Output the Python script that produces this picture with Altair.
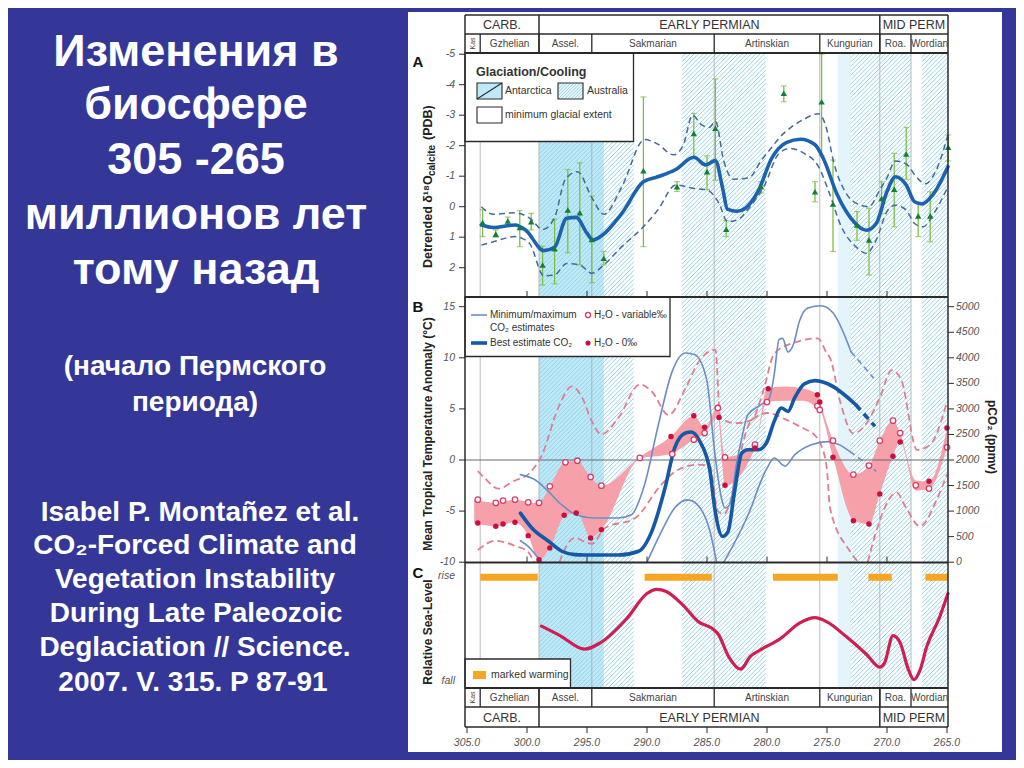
import altair as alt
import pandas as pd

# ============================ DATA ============================
# geological time scale (Ma)
stage_names = ["Kas", "Gzhelian", "Assel.", "Sakmarian", "Artinskian", "Kungurian", "Roa.", "Wordian"]
stage_bounds = [305.17, 303.9, 299.0, 294.6, 284.4, 275.6, 270.6, 268.0, 264.92]
period_names = ["CARB.", "EARLY PERMIAN", "MID PERM"]
period_bounds = [305.17, 299.0, 270.6, 264.92]

# glaciation / cooling intervals (Ma)
ant_start, ant_end = [299.0], [293.6]
faint_start, faint_end = [274.1], [273.0]
hatch_start = [299.0, 287.1, 273.0, 267.1]
hatch_end = [291.1, 280.1, 268.0, 264.92]

# ---- Panel A: detrended d18O calcite ----
a_age = [303.7, 302.6, 301.6, 300.6, 299.65, 298.7, 297.7, 296.6, 295.6, 294.6, 293.6, 290.3, 287.5, 286.1, 285.0,
         284.3, 283.4, 280.5, 278.6, 276.0, 275.45, 274.5, 272.5, 271.5, 270.45, 269.4, 268.4, 267.4, 266.4, 264.9]
a_val = [0.52, 0.90, 0.47, 0.68, 0.49, 1.91, 1.38, 0.11, 0.20, 1.07, 1.69, -1.18, -0.66, -2.40, -1.15,
         -2.57, 0.74, -0.66, -3.72, -0.49, -3.44, -0.09, 0.60, 1.09, -0.27, -0.57, -1.73, 0.30, 0.30, -1.95]
a_lo = [0.10, 0.76, 0.34, 0.13, 0.22, 1.29, 0.41, -1.22, -1.44, -0.35, 1.47, -3.60, -0.82, -3.06, -1.67,
        -4.19, 0.46, -0.82, -3.96, -0.82, -5.00, -1.53, 0.16, 0.05, -0.82, -1.75, -2.60, -0.16, -0.49, -2.35]
a_hi = [0.98, 1.00, 0.60, 1.31, 0.76, 2.57, 2.53, 1.51, 1.91, 2.49, 1.91, 1.31, -0.50, -1.64, -0.56,
        -0.87, 0.98, -0.45, -3.44, -0.16, -1.68, 1.47, 1.10, 2.24, 0.22, 0.66, -0.90, 0.98, 1.15, -1.50]

a_fit_age = [303.8, 302.8, 301.0, 300.1, 298.6, 297.7, 296.7, 295.9, 295.0, 294.5, 293.7, 292.1, 290.3, 289.1, 287.6,
             286.1, 285.1, 284.3, 283.7, 283.3, 282.5, 281.8, 280.75, 279.6, 278.4, 277.2, 276.0, 275.25, 274.2, 273.0,
             271.7, 270.9, 270.0, 269.3, 268.4, 267.7, 267.1, 266.2, 264.92]
a_fit_val = [0.60, 0.68, 0.60, 0.77, 1.44, 1.33, 0.38, 0.35, 0.87, 1.09, 0.93, 0.22, -0.82, -0.98, -1.22,
             -1.62, -1.37, -1.51, -0.61, 0.08, 0.15, 0.05, -0.50, -1.59, -2.10, -2.21, -2.03, -1.53, -0.44, 0.38,
             0.77, 0.55, -0.50, -0.98, -0.71, -0.16, -0.09, -0.38, -1.31]

a_up_age = [303.8, 302.8, 301.0, 299.7, 298.7, 297.7, 296.8, 295.8, 294.6, 293.6, 292.1, 290.2, 289.1, 287.8, 287.0,
            286.2, 285.5, 284.8, 284.3, 283.6, 282.8, 281.5, 280.5, 279.5, 279.0, 278.0, 277.0, 275.7, 275.0, 274.5,
            273.5, 272.5, 271.5, 270.6, 270.0, 269.3, 268.4, 267.5, 266.8, 265.9, 264.92]
a_up_val = [0.00, 0.25, 0.20, 0.40, 0.75, 0.35, -0.90, -1.15, -0.30, 0.25, -0.65, -2.20, -2.05, -1.70, -2.00,
            -3.00, -2.70, -2.60, -2.80, -1.50, -0.90, -0.95, -1.50, -2.00, -2.25, -2.60, -2.85, -3.05, -2.50, -1.55,
            -0.50, -0.10, 0.00, -0.55, -0.95, -1.50, -1.40, -0.95, -0.75, -1.20, -2.35]

a_dn_age = [303.8, 302.8, 301.0, 299.8, 298.6, 297.7, 296.7, 295.6, 294.6, 293.6, 292.1, 290.3, 289.1, 287.6, 286.1,
            285.0, 284.0, 283.3, 282.5, 281.4, 280.2, 279.0, 278.1, 276.9, 275.7, 274.8, 273.8, 272.6, 271.7, 270.9,
            270.0, 269.3, 268.4, 267.7, 267.0, 266.1, 264.92]
a_dn_val = [1.26, 1.15, 0.98, 1.20, 2.27, 2.24, 1.86, 1.91, 2.18, 1.91, 1.31, 0.66, 0.11, -0.71, -0.60,
            -0.55, -0.11, 0.49, 0.44, 0.00, -0.71, -1.75, -1.91, -1.75, -1.31, -0.44, 0.66, 1.31, 1.53, 1.09,
            0.16, -0.05, 0.11, 0.55, 0.66, 0.22, -0.66]

# ---- Panel B: tropical temperature anomaly (deg C) ----
b_open_age = [304.1, 302.6, 302.0, 301.0, 299.9, 299.0, 298.1, 296.8, 295.8, 294.7, 293.8, 290.6, 287.9, 286.1, 285.2,
              284.1, 283.5, 281.0, 280.0, 275.8, 275.6, 274.5, 272.8, 271.5, 270.6, 269.5, 268.9, 267.6, 266.5, 265.0]
b_open_val = [-3.88, -4.20, -3.97, -3.88, -4.14, -4.20, -2.58, -0.23, -0.07, -1.66, -2.51, 0.20, 0.59, 1.99, 2.64,
              5.09, 0.26, 1.50, 5.67, 5.28, 4.90, 1.89, -1.43, -0.55, 1.89, 3.85, 2.64, -2.48, -2.80, 1.24]

b_fill_age = [304.1, 302.6, 302.0, 301.0, 299.9, 299.0, 298.1, 296.9, 295.9, 294.7, 293.8, 288.0, 286.1, 285.2,
              284.0, 283.5, 281.0, 279.9, 275.8, 275.6, 274.5, 272.8, 271.5, 270.6, 269.5, 268.9, 266.5, 265.0]
b_fill_val = [-6.16, -6.49, -6.26, -6.10, -7.40, -9.75, -8.60, -5.41, -5.18, -7.63, -6.82, 2.31, 4.34, 3.20,
              4.17, -2.48, 1.17, 6.98, 6.39, 5.67, 0.26, -5.94, -6.26, -3.33, 0.36, 1.76, -2.09, 3.13]

b_band_age = [304.4, 302.6, 301.0, 299.9, 299.0, 298.1, 296.8, 295.8, 294.7, 293.8, 290.6, 288.0, 286.1, 285.2, 284.1,
              283.5, 281.0, 280.0, 278.5, 277.0, 275.8, 275.6, 274.5, 272.8, 271.5, 270.6, 269.5, 268.9, 267.6, 266.5,
              265.0]
b_band_hi = [-3.9, -4.2, -3.9, -4.1, -4.2, -2.6, -0.2, -0.1, -1.7, -2.5, 0.3, 2.3, 4.3, 3.2, 5.1,
             0.3, 1.5, 7.0, 7.2, 7.0, 6.4, 5.7, 1.9, -1.4, -0.6, 1.9, 3.9, 2.6, -2.0, -2.1, 3.1]
b_band_lo = [-6.2, -6.5, -6.1, -7.4, -9.8, -8.6, -5.4, -5.2, -7.6, -6.8, 0.1, 0.6, 2.0, 2.6, 4.2,
             -2.5, 1.2, 5.7, 5.8, 5.8, 5.1, 4.9, 0.3, -5.9, -6.3, -3.3, 0.4, 1.8, -3.0, -2.8, 1.2]

b_pu_age = [304.1, 303.5, 302.4, 301.0, 299.9, 298.75, 297.4, 296.25, 295.4, 294.6, 293.8, 292.4, 290.6, 289.6, 288.2,
            286.8, 285.7, 284.3, 283.9, 282.7, 281.3, 280.3, 279.4, 277.7, 275.75, 275.0, 274.75, 273.9, 272.8, 271.7,
            270.6, 269.6, 268.8, 267.5, 266.4, 265.0]
b_pu_val = [-1.1, -1.8, -2.8, -2.0, -1.4, 0.5, 5.1, 7.2, 6.1, 3.8, 2.5, 4.1, 7.4, 6.7, 4.4,
            7.0, 9.6, 10.8, 4.2, 3.6, 3.9, 6.8, 10.4, 11.5, 11.9, 10.4, 10.0, 5.7, 2.6, 3.6,
            6.1, 8.8, 7.8, 1.0, 1.5, 5.7]

b_pl_age = [304.1, 302.6, 301.0, 299.9, 299.4, None, 297.3, 296.8, 296.0, 295.2, 294.6, 293.5, 291.0, 288.8, 287.4,
            285.7, 284.75, 284.1, 283.6, 282.7, 282.1, 281.5, 280.8, 280.0, 278.5, 277.0, 276.0, 275.5, 275.0, 274.75,
            273.1, 272.4, None, 271.6, 270.9, 269.2, 268.4, 267.25, 265.9, 265.0]
b_pl_val = [-8.8, -7.9, -8.4, -9.0, -10.0, None, -10.0, -8.6, -7.6, -8.0, -8.2, -6.65, -5.7, -2.4, -0.95,
            -0.45, -0.6, -5.0, -5.3, -2.4, 1.2, 3.5, 4.3, 4.6, 4.0, 3.1, 2.4, 1.5, -1.0, -4.7,
            -8.9, -10.0, None, -10.0, -7.0, -3.2, -4.7, -6.5, -4.0, -1.4]

b_max_age = [300.55, 299.3, 298.2, 297.1, 295.8, 294.3, 292.4, 291.3, 290.2, 289.05, 287.9, 286.8, 286.0, 285.0, 284.4,
             283.8, 283.5, 283.1, 282.55, 282.1, 281.6, 280.5, 279.8, 279.4, 279.0, 278.7, 278.25, 277.8, 277.3, 276.6,
             275.5, 274.5, 273.0]
b_max_val = [-1.43, -1.96, -3.10, -4.40, -5.40, -5.67, -5.67, -5.35, -2.40, 3.46, 8.67, 10.47, 10.30, 7.70, 1.17,
             -3.70, -4.70, -4.37, -0.46, 2.15, 4.43, 5.41, 6.07, 8.35, 11.77, 11.90, 10.57, 11.30, 13.57, 14.87,
             15.10, 14.40, 10.60]
b_max_ext_age, b_max_ext_val = [273.0, 271.1], [10.6, 8.0]

b_min_age = [300.55, 299.9, 299.2, 298.8, None, 290.0, 288.8, 287.7, 286.6, 285.7, 284.75, 284.2, None,
             283.6, 282.8, 281.9, 281.3, 280.75, 280.0, 279.4, 278.5, 277.7, 276.3, 274.9, 273.1]
b_min_val = [-7.9, -8.45, -9.4, -10.0, None, -10.0, -7.0, -4.7, -3.9, -4.5, -7.0, -10.0, None,
             -10.0, -8.3, -6.2, -4.6, -2.8, -0.8, 0.2, -0.6, 0.5, 1.5, 1.8, 0.85]
b_min_ext_age, b_min_ext_val = [273.1, 270.9], [0.85, -1.1]

b_best_age = [300.55, 299.6, 298.2, 297.1, 296.0, 295.2, 292.4, 290.7, 289.6, 288.5, 287.7, 286.8, 286.3, 285.6,
              284.75, 284.4, 283.7, 283.25, 282.7, 282.1, 281.6, 280.75, 280.05, 279.4, 278.8, 278.25, 277.7, 276.9,
              276.0, 274.9, 272.6]
b_best_val = [-5.2, -6.65, -7.95, -8.93, -9.26, -9.3, -9.3, -8.93, -6.98, -2.74, 1.17, 2.64, 2.74, 1.83,
              -1.10, -4.37, -7.47, -7.0, -3.07, 0.68, 1.0, 1.0, 1.66, 3.78, 5.09, 4.76, 6.07, 7.44,
              7.77, 7.44, 5.41]
b_best_ext_age, b_best_ext_val = [272.6, 271.0], [5.41, 3.29]

# ---- Panel C: relative sea level (0 = fall, 1 = rise) ----
sl_age = [298.8, 297.25, 295.2, 293.9, 291.7, 290.0, 289.2, 288.4, 287.0, 285.7, 284.6, 284.05, 283.2, 282.2, 281.4,
          280.6, 278.9, 277.25, 276.0, 275.0, 273.4, 271.7, 270.6, 270.2, 269.5, 268.9, 268.2, 267.75, 267.25, 266.7,
          265.6, 264.92]
sl_val = [0.52, 0.43, 0.30, 0.36, 0.59, 0.83, 0.87, 0.85, 0.72, 0.56, 0.50, 0.44, 0.23, 0.11, 0.23,
          0.29, 0.40, 0.55, 0.60, 0.56, 0.42, 0.25, 0.13, 0.17, 0.43, 0.36, 0.10, 0.01, 0.10, 0.32,
          0.61, 0.83]
warm_start = [303.9, 290.2, 279.5, 271.55, 266.8]
warm_end = [299.1, 284.6, 274.1, 269.6, 264.92]

# axis tick values
a_ticks = [-5, -4, -3, -2, -1, 0, 1, 2]
b_ticks = [15, 10, 5, 0, -5, -10]
co2_ticks = [0, 500, 1000, 1500, 2000, 2500, 3000, 3500, 4000, 4500, 5000]
age_ticks = [305, 300, 295, 290, 285, 280, 275, 270, 265]

# slide text
title_lines = ["Изменения в", "биосфере", "305 -265", "миллионов лет", "тому назад"]
sub_lines = ["(начало Пермского", "периода)"]
ref_lines = ["Isabel P. Montañez et al.", "CO₂-Forced Climate and", "Vegetation Instability",
             "During Late Paleozoic", "Deglaciation // Science.", "2007. V. 315. P 87-91"]

# ============================ STYLE / SCALES ============================
BG = "#343798"
FONT = "Liberation Sans"
DARK = "#2a2a2a"
PX305, PX265 = 467.0, 947.0          # page x of 305 and 265 Ma
OFF = 8                              # page margin


def px2ma(px):
    return 305.0 - (px - PX305) * 40.0 / (PX265 - PX305)


def ma2px(ma):
    return PX305 + (305.0 - ma) * (PX265 - PX305) / 40.0


XS = alt.Scale(domain=[305, 265], range=[PX305 - OFF, PX265 - OFF], nice=False, zero=False)
YA = alt.Scale(domain=[-5, 2], range=[54.2 - OFF, 267.7 - OFF], nice=False, zero=False)
YB = alt.Scale(domain=[-10, 15], range=[562.2 - OFF, 306.7 - OFF], nice=False, zero=False)
YC = alt.Scale(domain=[0, 1], range=[680.7 - OFF, 575.7 - OFF], nice=False, zero=False)
YP = alt.Scale(domain=[OFF, 752 + OFF], range=[0, 752], nice=False, zero=False)


def ex(f):
    return alt.X(f"{f}:Q", scale=XS, axis=None)


def ey(f, s):
    return alt.Y(f"{f}:Q", scale=s, axis=None)


def vx(px):
    return alt.value(px - OFF)


def vy(py):
    return alt.value(py - OFF)


layers = []


def rects_px(rows, **style):
    df = pd.DataFrame(rows, columns=["x0", "x1", "y0", "y1"])
    df["m0"] = df.x0.map(px2ma)
    df["m1"] = df.x1.map(px2ma)
    return alt.Chart(df).mark_rect(**style).encode(x=ex("m0"), x2=alt.X2("m1"), y=ey("y0", YP), y2=alt.Y2("y1"))


def rules_px(rows, **style):
    df = pd.DataFrame(rows, columns=["x0", "y0", "x1", "y1"])
    df["m0"] = df.x0.map(px2ma)
    df["m1"] = df.x1.map(px2ma)
    return alt.Chart(df).mark_rule(**style).encode(x=ex("m0"), x2=alt.X2("m1"), y=ey("y0", YP), y2=alt.Y2("y1"))


def texts_px(rows, **style):
    df = pd.DataFrame(rows, columns=["px", "py", "t"])
    df["ma"] = df.px.map(px2ma)
    st = dict(font=FONT)
    st.update(style)
    return alt.Chart(df).mark_text(**st).encode(x=ex("ma"), y=ey("py", YP), text="t:N")


def hatch_rows(x_left, x_right, ytop, ybot, step):
    h = ybot - ytop
    rows = []
    c = x_left - h
    while c < x_right:
        if c >= x_left:
            sx, sy = c, ybot
        else:
            sx, sy = x_left, ybot - (x_left - c)
        if c + h <= x_right:
            exx, eyy = c + h, ytop
        else:
            exx, eyy = x_right, ybot - (x_right - c)
        if sy > eyy and exx > sx:
            rows.append((sx, sy, exx, eyy))
        c += step
    return rows


def seg_df(ages, vals):
    rows, seg = [], 0
    for a, v in zip(ages, vals):
        if a is None:
            seg += 1
            continue
        rows.append({"age": a, "v": v, "seg": seg})
    return pd.DataFrame(rows)


def line(ages, vals, scale, color, width, dash=None, interp="monotone"):
    df = seg_df(ages, vals)
    kw = dict(color=color, strokeWidth=width, interpolate=interp, strokeCap="round")
    if dash:
        kw["strokeDash"] = dash
        kw["strokeCap"] = "butt"
    return alt.Chart(df).mark_line(**kw).encode(x=ex("age"), y=ey("v", scale), detail="seg:N")


PLOT_TOP, PLOT_BOT = 53, 688

# ---------------- white panel ----------------
layers.append(rects_px([(408, 1002, 12, 752)], fill="white"))

# ---------------- glaciation bands ----------------
gl = pd.DataFrame({"s": ant_start + faint_start, "e": ant_end + faint_end, "k": ["ant", "faint"]})
gl["y0"], gl["y1"] = PLOT_TOP, PLOT_BOT
layers.append(alt.Chart(gl).mark_rect().encode(
    x=ex("s"), x2=alt.X2("e"), y=ey("y0", YP), y2=alt.Y2("y1"),
    color=alt.Color("k:N", scale=alt.Scale(domain=["ant", "faint"], range=["#c0e9f7", "#e3f5fb"]), legend=None)))

hrows = []
for s, e in zip(hatch_start, hatch_end):
    hrows += hatch_rows(ma2px(s), ma2px(e), PLOT_TOP, PLOT_BOT, 4.4)
layers.append(rules_px(hrows, color="#92d4ea", strokeWidth=1.0))

# stage boundary lines inside the panels
sb = pd.DataFrame({"m": stage_bounds[1:-1]})
layers.append(alt.Chart(sb).mark_rule(color="#a9a9a9", strokeWidth=0.8).encode(
    x=ex("m"), y=vy(PLOT_TOP), y2=vy(PLOT_BOT)))

# ---------------- Panel A ----------------
pa = pd.DataFrame({"age": a_age, "v": a_val, "lo": a_lo, "hi": a_hi})
GREEN = "#7dbf45"
layers.append(alt.Chart(pa).mark_rule(color=GREEN, strokeWidth=1.3).encode(
    x=ex("age"), y=ey("lo", YA), y2=alt.Y2("hi")))
layers.append(alt.Chart(pa).mark_tick(orient="horizontal", size=6, thickness=1.2, color=GREEN).encode(
    x=ex("age"), y=ey("lo", YA)))
layers.append(alt.Chart(pa).mark_tick(orient="horizontal", size=6, thickness=1.2, color=GREEN).encode(
    x=ex("age"), y=ey("hi", YA)))
layers.append(line(a_up_age, a_up_val, YA, "#44699b", 1.5, dash=[6, 4]))
layers.append(line(a_dn_age, a_dn_val, YA, "#44699b", 1.5, dash=[6, 4]))
layers.append(line(a_fit_age, a_fit_val, YA, "#1b62b0", 3.6))
layers.append(alt.Chart(pa).mark_point(shape="triangle-up", filled=True, size=42, color="#137f3b", opacity=1).encode(
    x=ex("age"), y=ey("v", YA)))

# ---------------- Panel B ----------------
band = pd.DataFrame({"age": b_band_age, "hi": b_band_hi, "lo": b_band_lo})
layers.append(alt.Chart(band).mark_area(interpolate="monotone", orient="vertical", color="#f6a0aa", opacity=1).encode(
    x=ex("age"), y=ey("hi", YB), y2=alt.Y2("lo")))
# zero line panel B
layers.append(alt.Chart(pd.DataFrame({"v": [0]})).mark_rule(color="#6a6a6a", strokeWidth=1.2).encode(
    y=ey("v", YB), x=vx(465), x2=vx(948)))
PDASH = "#de7f90"
layers.append(line(b_pu_age, b_pu_val, YB, PDASH, 1.8, dash=[7, 4]))
layers.append(line(b_pl_age, b_pl_val, YB, PDASH, 1.8, dash=[7, 4]))
THIN = "#6c8cc6"
layers.append(line(b_max_age, b_max_val, YB, THIN, 1.6))
layers.append(line(b_max_ext_age, b_max_ext_val, YB, THIN, 1.6, dash=[6, 4]))
layers.append(line(b_min_age, b_min_val, YB, THIN, 1.6))
layers.append(line(b_min_ext_age, b_min_ext_val, YB, THIN, 1.6, dash=[6, 4]))
THICK = "#1559a6"
layers.append(line(b_best_age, b_best_val, YB, THICK, 3.6))
layers.append(line(b_best_ext_age, b_best_ext_val, YB, THICK, 3.6, dash=[7, 5]))
layers.append(alt.Chart(pd.DataFrame({"age": b_open_age, "v": b_open_val})).mark_point(
    shape="circle", filled=True, fill="white", stroke="#db3c69", strokeWidth=1.3, size=30, opacity=1).encode(
    x=ex("age"), y=ey("v", YB)))
layers.append(alt.Chart(pd.DataFrame({"age": b_fill_age, "v": b_fill_val})).mark_circle(
    color="#c8103f", size=30, opacity=1).encode(x=ex("age"), y=ey("v", YB)))

# ---------------- Panel C ----------------
wb = pd.DataFrame({"s": warm_start, "e": warm_end, "v": [0.985] * len(warm_start)})
layers.append(alt.Chart(wb).mark_rule(color="#f6a623", strokeWidth=7).encode(
    x=ex("s"), x2=alt.X2("e"), y=ey("v", YC)))
layers.append(line(sl_age, sl_val, YC, "#cf1f52", 3.2))

# ---------------- legends ----------------
# panel A legend
layers.append(rects_px([(465, 633.5, 53, 141.5)], fill="white", stroke=DARK, strokeWidth=1.3))
layers.append(rects_px([(477, 502, 83, 99)], fill="#c0e9f7", stroke=DARK, strokeWidth=1.1))
layers.append(rules_px([(477, 99, 502, 83)], color=DARK, strokeWidth=1.1))
layers.append(rects_px([(558, 583, 83, 99)], fill="#e9f7fc"))
layers.append(rules_px(hatch_rows(558, 583, 83, 99, 3.2), color="#8fd2e8", strokeWidth=0.9))
layers.append(rects_px([(558, 583, 83, 99)], fill=None, fillOpacity=0, stroke=DARK, strokeWidth=1.1))
layers.append(rects_px([(477, 502, 107, 123)], fill="white", stroke=DARK, strokeWidth=1.1))
layers.append(texts_px([(476, 72, "Glaciation/Cooling")], fontSize=12.5, fontWeight="bold", color="#333",
                       align="left", baseline="middle"))
layers.append(texts_px([(505, 91, "Antarctica"), (587, 91, "Australia"), (505, 115, "minimum glacial extent")],
                       fontSize=10.5, color="#333", align="left", baseline="middle"))

# panel B legend
layers.append(rects_px([(465, 670, 297, 356.5)], fill="white", stroke=DARK, strokeWidth=1.3))
layers.append(rules_px([(471, 315, 487, 315)], color=THIN, strokeWidth=1.6))
layers.append(rules_px([(471, 343, 487, 343)], color=THICK, strokeWidth=3.6))
lg_o = pd.DataFrame({"ma": [px2ma(588)], "py": [315]})
layers.append(alt.Chart(lg_o).mark_point(shape="circle", filled=True, fill="white", stroke="#db3c69",
                                         strokeWidth=1.3, size=26, opacity=1).encode(x=ex("ma"), y=ey("py", YP)))
lg_f = pd.DataFrame({"ma": [px2ma(588)], "py": [343]})
layers.append(alt.Chart(lg_f).mark_circle(color="#c8103f", size=26, opacity=1).encode(x=ex("ma"), y=ey("py", YP)))
layers.append(texts_px([(490, 315, "Minimum/maximum"), (490, 328, "CO₂ estimates"), (490, 343, "Best estimate CO₂"),
                        (594, 315, "H₂O - variable‰"), (594, 343, "H₂O - 0‰")],
                       fontSize=10, color="#333", align="left", baseline="middle"))

# panel C legend
layers.append(rects_px([(465, 570.5, 659, 688)], fill="white", stroke=DARK, strokeWidth=1.3))
layers.append(rects_px([(473, 486, 671, 679)], fill="#f6a623"))
layers.append(texts_px([(491, 675, "marked warming")], fontSize=10.5, color="#333", align="left", baseline="middle"))

# ---------------- frame & time-scale tables ----------------
frame_rows = [(465, 15, 948, 15), (465, 727, 948, 727), (465, 34, 948, 34), (465, 707, 948, 707),
              (465, 15, 465, 727), (948, 15, 948, 727)]
layers.append(rules_px(frame_rows, color=DARK, strokeWidth=1.5))
thick_rows = [(465, 53, 948, 53), (465, 297, 948, 297), (465, 562.5, 948, 562.5), (465, 688, 948, 688)]
layers.append(rules_px(thick_rows, color=DARK, strokeWidth=2.2))
pb = pd.DataFrame({"m": period_bounds[1:-1]})
layers.append(alt.Chart(pb).mark_rule(color=DARK, strokeWidth=1.5).encode(x=ex("m"), y=vy(15), y2=vy(53)))
layers.append(alt.Chart(pb).mark_rule(color=DARK, strokeWidth=1.5).encode(x=ex("m"), y=vy(688), y2=vy(727)))
sbi = pd.DataFrame({"m": stage_bounds[1:-1]})
layers.append(alt.Chart(sbi).mark_rule(color=DARK, strokeWidth=1.3).encode(x=ex("m"), y=vy(34), y2=vy(53)))
layers.append(alt.Chart(sbi).mark_rule(color=DARK, strokeWidth=1.3).encode(x=ex("m"), y=vy(688), y2=vy(707)))

pdf = pd.DataFrame({"name": period_names,
                    "mid": [(a + b) / 2 for a, b in zip(period_bounds[:-1], period_bounds[1:])]})
for yy in (24.5, 717.5):
    layers.append(alt.Chart(pdf).mark_text(font=FONT, fontSize=12.5, color="#333", baseline="middle").encode(
        x=ex("mid"), y=vy(yy), text="name:N"))
sdf = pd.DataFrame({"name": stage_names,
                    "mid": [(a + b) / 2 for a, b in zip(stage_bounds[:-1], stage_bounds[1:])]})
for yy in (43.5, 697.5):
    layers.append(alt.Chart(sdf[sdf.name != "Kas"]).mark_text(font=FONT, fontSize=10, color="#444",
                                                               baseline="middle").encode(
        x=ex("mid"), y=vy(yy), text="name:N"))
    layers.append(alt.Chart(sdf[sdf.name == "Kas"]).mark_text(font=FONT, fontSize=7, color="#444", angle=270,
                                                              baseline="middle").encode(
        x=ex("mid"), y=vy(yy), text="name:N"))

# ---------------- axes ----------------
TL = dict(font=FONT, fontSize=10.5, fontStyle="italic", color="#555")
# panel A left
ta = pd.DataFrame({"v": a_ticks, "t": [str(v) for v in a_ticks]})
layers.append(alt.Chart(ta).mark_rule(color=DARK, strokeWidth=1).encode(y=ey("v", YA), x=vx(459), x2=vx(465)))
layers.append(alt.Chart(ta).mark_text(align="right", baseline="middle", **TL).encode(
    y=ey("v", YA), x=vx(455), text="t:N"))
# panel B left
tb = pd.DataFrame({"v": b_ticks, "t": [str(v) for v in b_ticks]})
layers.append(alt.Chart(tb).mark_rule(color=DARK, strokeWidth=1).encode(y=ey("v", YB), x=vx(459), x2=vx(465)))
layers.append(alt.Chart(tb).mark_text(align="right", baseline="middle", **TL).encode(
    y=ey("v", YB), x=vx(455), text="t:N"))
# panel B right (pCO2)
tc = pd.DataFrame({"c": co2_ticks})
tc["v"] = tc.c / 200.0 - 10.0
tc["t"] = tc.c.astype(str)
layers.append(alt.Chart(tc).mark_rule(color=DARK, strokeWidth=1).encode(y=ey("v", YB), x=vx(948), x2=vx(954)))
layers.append(alt.Chart(tc).mark_text(align="left", baseline="middle", **TL).encode(
    y=ey("v", YB), x=vx(956), text="t:N"))
# panel C rise / fall
layers.append(alt.Chart(pd.DataFrame({"v": [1, 0], "t": ["rise", "fall"]})).mark_text(
    align="right", baseline="middle", **TL).encode(y=ey("v", YC), x=vx(455), text="t:N"))
# bottom age axis
tx = pd.DataFrame({"m": age_ticks, "t": [f"{m:.1f}" for m in age_ticks]})
layers.append(alt.Chart(tx).mark_rule(color=DARK, strokeWidth=1).encode(x=ex("m"), y=vy(727), y2=vy(733)))
layers.append(alt.Chart(tx).mark_text(baseline="middle", **TL).encode(x=ex("m"), y=vy(743), text="t:N"))
txi = tx[(tx.m < 305) & (tx.m > 265)]
for yy in (297, 562.5):
    layers.append(alt.Chart(txi).mark_rule(color=DARK, strokeWidth=1).encode(x=ex("m"), y=vy(yy - 6), y2=vy(yy)))

# axis titles and panel letters
layers.append(texts_px([(428, 268, "Detrended δ¹⁸O")], fontSize=12.5, fontWeight="bold", color="#222",
                       angle=270, align="left", baseline="middle"))
layers.append(texts_px([(431.5, 176, "calcite")], fontSize=10, fontWeight="bold", color="#222",
                       angle=270, align="left", baseline="middle"))
layers.append(texts_px([(428, 140, "(PDB)")], fontSize=12.5, fontWeight="bold", color="#222",
                       angle=270, align="left", baseline="middle"))
layers.append(texts_px([(428, 434, "Mean Tropical Temperature Anomaly (°C)"), (428, 632, "Relative Sea-Level")],
                       fontSize=12, fontWeight="bold", color="#222", angle=270, align="center", baseline="middle"))
layers.append(texts_px([(992, 437, "pCO₂ (ppmv)")], fontSize=12, fontWeight="bold", color="#222",
                       angle=90, align="center", baseline="middle"))
layers.append(texts_px([(418, 62, "A"), (418, 307, "B"), (418, 573, "C")], fontSize=15, fontWeight="bold",
                       color="#111", align="center", baseline="middle"))

# ---------------- slide text ----------------
title_y = [52, 105, 160, 215, 270]
layers.append(texts_px([(196, y, t) for y, t in zip(title_y, title_lines)], fontSize=45, fontWeight="bold",
                       color="white", align="center", baseline="middle"))
sub_y = [367, 403]
layers.append(texts_px([(195, y, t) for y, t in zip(sub_y, sub_lines)], fontSize=28, fontWeight="bold",
                       color="white", align="center", baseline="middle"))
ref_y = [513, 546, 580, 614, 648, 683]
ref_x = [200, 195, 195, 196, 195, 193]
layers.append(texts_px([(x, y, t) for x, y, t in zip(ref_x, ref_y, ref_lines)], fontSize=28, fontWeight="bold",
                       color="white", align="center", baseline="middle"))

chart = alt.layer(*layers).resolve_scale(y="independent").properties(
    width=1008, height=752, padding=0, autosize=alt.AutoSizeParams(type="none")
).configure(background=BG).configure_view(stroke=None)

chart.save("out.html", embed_options={"renderer": "svg", "actions": False})
